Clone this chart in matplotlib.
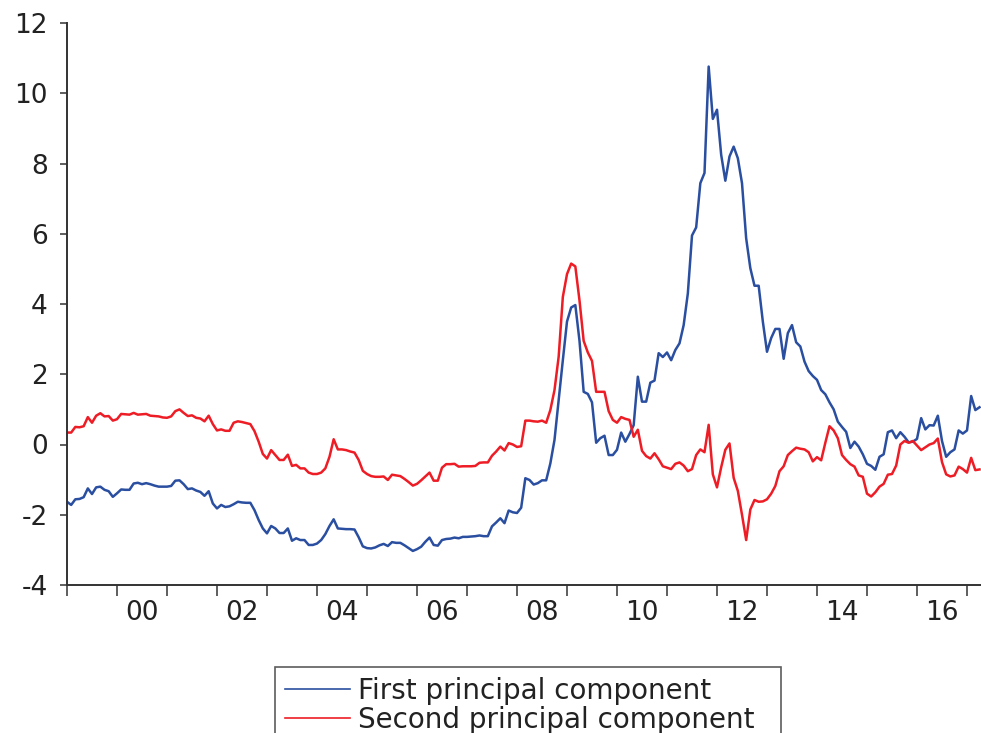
import numpy as np
import pandas as pd
import matplotlib
matplotlib.use("Agg")
import matplotlib.pyplot as plt
from matplotlib.lines import Line2D

# maandelijkse waarden, 1999M01 t/m 2017M04
dates = pd.date_range("1999-01-01", periods=220, freq="MS")

first_pc = [
    -1.63, -1.72, -1.56, -1.55, -1.50, -1.25, -1.41, -1.22, -1.20, -1.29, -1.33, -1.49,
    -1.39, -1.28, -1.29, -1.29, -1.11, -1.09, -1.13, -1.10, -1.13, -1.17, -1.20, -1.20,
    -1.20, -1.18, -1.03, -1.02, -1.13, -1.27, -1.25, -1.31, -1.35, -1.46, -1.33, -1.68,
    -1.82, -1.72, -1.78, -1.76, -1.70, -1.63, -1.65, -1.66, -1.66, -1.87, -2.15, -2.39,
    -2.53, -2.32, -2.39, -2.52, -2.52, -2.39, -2.74, -2.67, -2.72, -2.72, -2.86, -2.86,
    -2.82, -2.72, -2.55, -2.32, -2.13, -2.39, -2.40, -2.41, -2.41, -2.42, -2.64, -2.90,
    -2.95, -2.96, -2.93, -2.87, -2.83, -2.89, -2.78, -2.80, -2.80, -2.87, -2.95, -3.03,
    -2.98, -2.91, -2.77, -2.65, -2.86, -2.88, -2.72, -2.69, -2.68, -2.65, -2.67, -2.63,
    -2.63, -2.62, -2.61, -2.59, -2.61, -2.61, -2.33, -2.22, -2.10, -2.24, -1.88, -1.93,
    -1.95, -1.80, -0.96, -1.01, -1.14, -1.10, -1.02, -1.02, -0.54, 0.13, 1.27, 2.40,
    3.50, 3.90, 3.97, 2.95, 1.50, 1.44, 1.20, 0.05, 0.18, 0.25, -0.30, -0.30,
    -0.15, 0.34, 0.08, 0.30, 0.55, 1.93, 1.22, 1.22, 1.76, 1.82, 2.60, 2.49,
    2.62, 2.40, 2.69, 2.88, 3.40, 4.30, 5.95, 6.18, 7.44, 7.73, 10.76, 9.27,
    9.53, 8.25, 7.51, 8.20, 8.48, 8.15, 7.44, 5.87, 5.02, 4.52, 4.52, 3.50,
    2.64, 3.03, 3.29, 3.29, 2.44, 3.17, 3.40, 2.91, 2.79, 2.36, 2.09, 1.95,
    1.84, 1.55, 1.43, 1.20, 1.00, 0.65, 0.50, 0.36, -0.10, 0.08, -0.06, -0.28,
    -0.55, -0.61, -0.72, -0.35, -0.28, 0.35, 0.40, 0.18, 0.35, 0.22, 0.06, 0.08,
    0.16, 0.75, 0.43, 0.55, 0.54, 0.82, 0.10, -0.35, -0.22, -0.14, 0.40, 0.31,
    0.40, 1.38, 0.98, 1.06,
]

second_pc = [
    0.34, 0.34, 0.50, 0.49, 0.52, 0.78, 0.62, 0.82, 0.89, 0.80, 0.81, 0.68,
    0.72, 0.87, 0.86, 0.85, 0.90, 0.85, 0.86, 0.87, 0.82, 0.81, 0.80, 0.77,
    0.76, 0.80, 0.95, 1.00, 0.90, 0.81, 0.83, 0.76, 0.74, 0.66, 0.82, 0.58,
    0.40, 0.43, 0.39, 0.39, 0.62, 0.66, 0.64, 0.61, 0.58, 0.38, 0.08, -0.27,
    -0.40, -0.16, -0.30, -0.44, -0.44, -0.29, -0.61, -0.58, -0.68, -0.68, -0.80, -0.84,
    -0.84, -0.80, -0.68, -0.35, 0.15, -0.14, -0.14, -0.16, -0.20, -0.23, -0.44, -0.75,
    -0.84, -0.90, -0.92, -0.92, -0.91, -1.01, -0.86, -0.88, -0.90, -0.98, -1.07, -1.17,
    -1.12, -1.02, -0.91, -0.80, -1.03, -1.03, -0.66, -0.56, -0.56, -0.55, -0.63, -0.62,
    -0.62, -0.62, -0.61, -0.52, -0.51, -0.51, -0.32, -0.20, -0.06, -0.17, 0.04, 0.00,
    -0.07, -0.05, 0.68, 0.68, 0.66, 0.65, 0.68, 0.62, 0.98, 1.55, 2.50, 4.20,
    4.85, 5.15, 5.07, 4.10, 2.95, 2.62, 2.38, 1.50, 1.50, 1.50, 0.95, 0.70,
    0.62, 0.78, 0.73, 0.70, 0.22, 0.42, -0.18, -0.33, -0.40, -0.25, -0.42, -0.62,
    -0.66, -0.70, -0.55, -0.51, -0.60, -0.76, -0.70, -0.30, -0.14, -0.22, 0.56, -0.85,
    -1.22, -0.65, -0.15, 0.03, -0.95, -1.32, -2.00, -2.72, -1.85, -1.58, -1.63, -1.62,
    -1.56, -1.40, -1.18, -0.76, -0.62, -0.30, -0.19, -0.09, -0.12, -0.14, -0.22, -0.48,
    -0.36, -0.45, 0.05, 0.52, 0.40, 0.18, -0.30, -0.44, -0.56, -0.63, -0.88, -0.92,
    -1.40, -1.48, -1.36, -1.20, -1.12, -0.86, -0.84, -0.60, 0.00, 0.10, 0.05, 0.10,
    -0.03, -0.16, -0.08, 0.00, 0.04, 0.17, -0.50, -0.85, -0.91, -0.88, -0.63, -0.70,
    -0.80, -0.38, -0.73, -0.71,
]

year_ticks = list(range(1999, 2018))
label_years = list(range(2000, 2017, 2))
year_labels = ["00", "02", "04", "06", "08", "10", "12", "14", "16"]
y_ticks = [-4, -2, 0, 2, 4, 6, 8, 10, 12]

blue = "#2a4ea0"
red = "#ee1c25"

plt.rcParams["font.family"] = ["DejaVu Sans"]
plt.rcParams["axes.unicode_minus"] = False

# tijd als decimaal jaartal
t = dates.year + (dates.month - 1) / 12

fig = plt.figure(figsize=(9.81, 7.33), dpi=100)
ax = fig.add_axes([67 / 981, 1 - 585 / 733, 1 - 67 / 981, (585 - 23) / 733])

ax.plot(t, first_pc, color=blue, lw=1.8)
ax.plot(t, second_pc, color=red, lw=1.8)

ax.set_xlim(1999, 2017.28)
ax.set_ylim(-4, 12)

# jaarstreepjes, labels midden in het jaar
ax.set_xticks(year_ticks)
ax.set_xticklabels([])
ax.set_xticks([y + 0.5 for y in label_years], minor=True)
ax.set_xticklabels(year_labels, minor=True)
ax.tick_params(axis="x", which="major", direction="out", length=8, width=1.1, color="#333333")
ax.tick_params(axis="x", which="minor", length=0, pad=11, labelsize=19, labelcolor="#222222")

ax.set_yticks(y_ticks)
ax.tick_params(axis="y", direction="out", length=5, width=1.1, pad=9,
               labelsize=19, color="#333333", labelcolor="#222222")

for side in ["top", "right"]:
    ax.spines[side].set_visible(False)
for side in ["left", "bottom"]:
    ax.spines[side].set_color("#333333")
    ax.spines[side].set_linewidth(1.4)

handles = [
    Line2D([], [], color=blue, lw=1.2),
    Line2D([], [], color=red, lw=1.2),
]
# onderkant van de legenda valt buiten de figuur, net als in het origineel
leg = fig.legend(handles, ["First principal component", "Second principal component"],
                 loc="upper left",
                 bbox_to_anchor=(275 / 981, 1 - 667 / 733, (781 - 275) / 981, 0.0),
                 mode="expand", fontsize=20, frameon=True, fancybox=False,
                 edgecolor="#333333", handlelength=2.35, handletextpad=0.3,
                 labelspacing=0.05, borderpad=0.35, borderaxespad=0)
leg.get_frame().set_linewidth(1.2)
for txt in leg.get_texts():
    txt.set_color("#222222")

fig.savefig("out.png", dpi=100)
